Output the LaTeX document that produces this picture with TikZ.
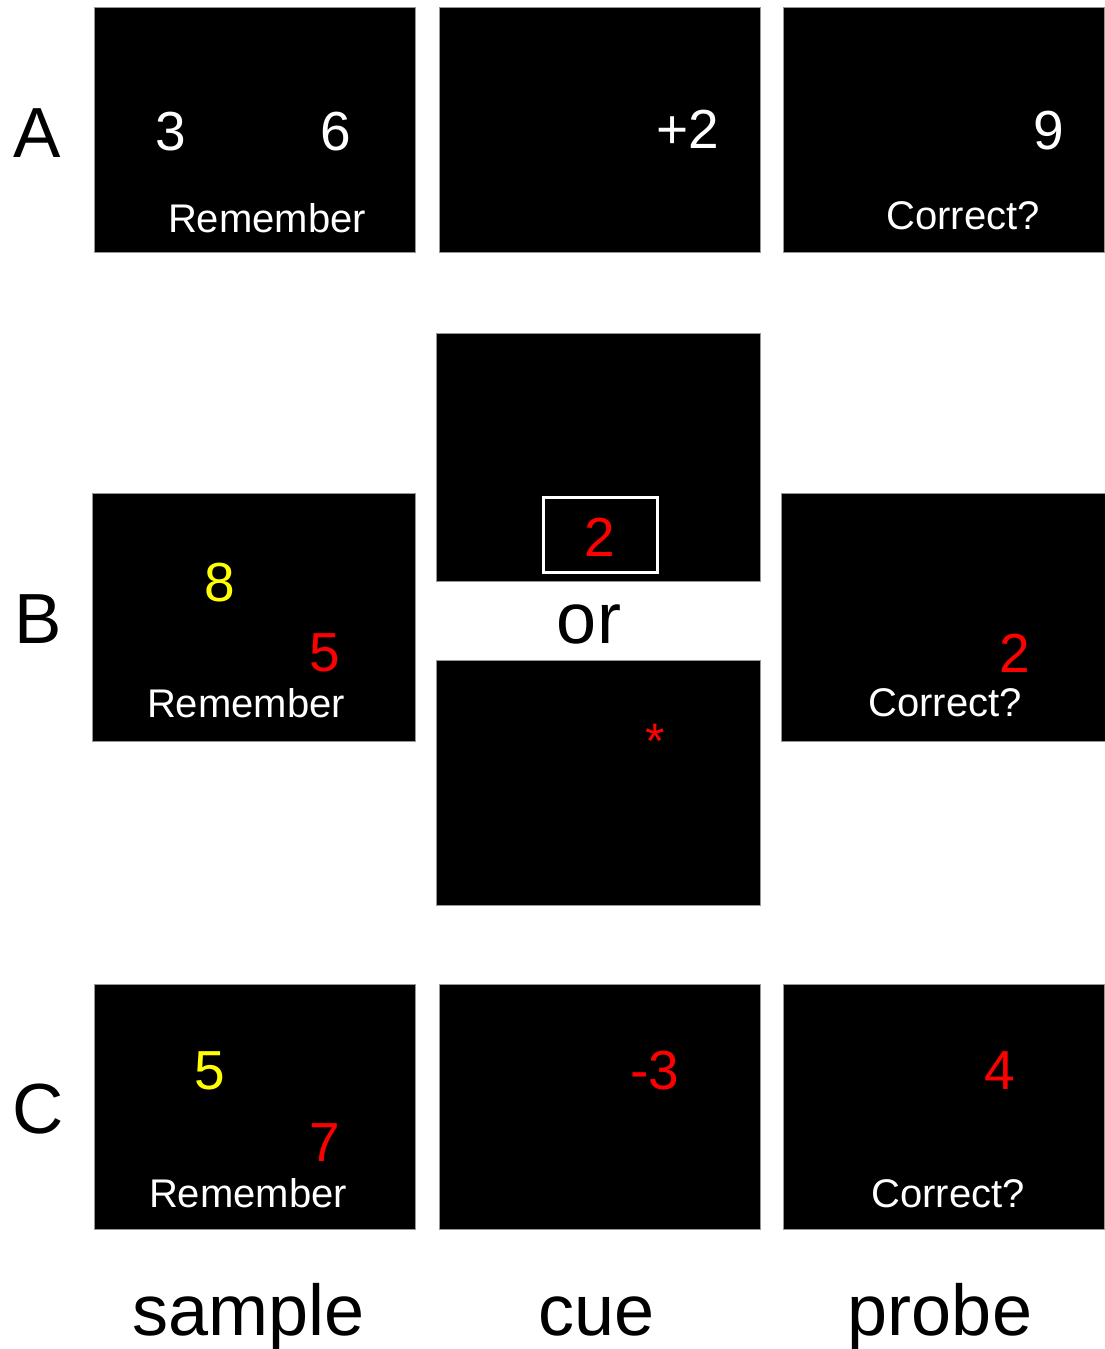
\documentclass[tikz,border=0pt]{standalone}
\usepackage{fontspec}
\setmainfont{Liberation Sans}
\definecolor{cueRed}{RGB}{255,0,0}
\definecolor{cueYellow}{RGB}{255,255,0}
\definecolor{frameGray}{RGB}{150,150,150}
\begin{document}
\begin{tikzpicture}[x=1pt,y=-1pt,
  screen/.style={draw=frameGray, fill=black, line width=0.8pt, inner sep=0pt, outer sep=0pt},
  big/.style={anchor=base, inner sep=0pt, font=\fontsize{71}{80}\selectfont},
  digit/.style={anchor=base, inner sep=0pt, font=\fontsize{55}{62}\selectfont},
  small/.style={anchor=base, inner sep=0pt, text=white, font=\fontsize{40}{46}\selectfont},
  caption/.style={anchor=base, inner sep=0pt, font=\fontsize{72}{80}\selectfont}]
\useasboundingbox[fill=white] (0,0) rectangle (1105,1349);

% row labels
\node[big] (labA) at (37,157) {A};
\node[big] (labB) at (38,643) {B};
\node[big] (labC) at (38,1133) {C};

% ---- row A ----
\node[screen, minimum width=321pt, minimum height=245pt] (a1) at (254.5,129.5) {};
\node[screen, minimum width=321pt, minimum height=245pt] (a2) at (599.5,129.5) {};
\node[screen, minimum width=321pt, minimum height=245pt] (a3) at (944,129.5) {};
\node[digit, text=white] (a1l) at (171,150) {3};
\node[digit, text=white] (a1r) at (336,150) {6};
\node[small] (a1t) at (267,232) {Remember};
\node[digit, text=white] (a2c) at (688,148) {+2};
\node[digit, text=white] (a3p) at (1049,149) {9};
\node[small] (a3t) at (963,229) {Correct?};

% ---- row B ----
\node[screen, minimum width=323pt, minimum height=248pt] (b1) at (253.5,617) {};
\node[screen, minimum width=324pt, minimum height=248pt] (b2a) at (598,457) {};
\node[screen, minimum width=324pt, minimum height=245pt] (b2b) at (598,782.5) {};
\node[screen, minimum width=324pt, minimum height=248pt] (b3) at (943,617) {};
\node[digit, text=cueYellow] (b1y) at (220,601) {8};
\node[digit, text=cueRed] (b1r) at (325,671) {5};
\node[small] (b1t) at (246,717) {Remember};
\node[draw=white, line width=3pt, minimum width=114pt, minimum height=75pt, inner sep=0pt] (b2frame) at (600.5,535) {};
\node[digit, text=cueRed] (b2d) at (600,556) {2};
\node[caption] (or) at (589,643) {or};
\node[anchor=base, inner sep=0pt, text=cueRed, font=\fontsize{50}{56}\selectfont] (b2star) at (655,758) {*};
\node[digit, text=cueRed] (b3p) at (1015,672) {2};
\node[small] (b3t) at (945,716) {Correct?};

% ---- row C ----
\node[screen, minimum width=321pt, minimum height=245pt] (c1) at (254.5,1106.5) {};
\node[screen, minimum width=321pt, minimum height=245pt] (c2) at (599.5,1106.5) {};
\node[screen, minimum width=321pt, minimum height=245pt] (c3) at (944,1106.5) {};
\node[digit, text=cueYellow] (c1y) at (210,1089) {5};
\node[digit, text=cueRed] (c1r) at (325,1161) {7};
\node[small] (c1t) at (248,1207) {Remember};
\node[digit, text=cueRed] (c2c) at (655,1089) {-3};
\node[digit, text=cueRed] (c3p) at (1000,1089) {4};
\node[small] (c3t) at (948,1207) {Correct?};

% column captions
\node[caption] (capS) at (249,1335) {sample};
\node[caption] (capC) at (597,1335) {cue};
\node[caption] (capP) at (940,1335) {probe};
\end{tikzpicture}
\end{document}
